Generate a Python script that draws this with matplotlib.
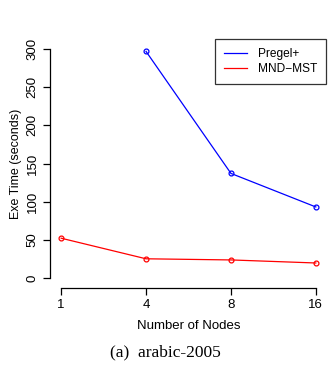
import matplotlib
matplotlib.use("Agg")
import matplotlib.pyplot as plt
from matplotlib.lines import Line2D

nodes = ["1", "4", "8", "16"]
pregel_x = [1, 2, 3]
pregel_vals = [297, 137, 93]
mnd_x = [0, 1, 2, 3]
mnd_vals = [52, 25, 23.5, 19.5]
yticks = [0, 50, 100, 150, 200, 250, 300]

plt.rcParams['font.family'] = ['Liberation Sans', 'DejaVu Sans']
fig = plt.figure(figsize=(3.28, 3.74), dpi=100)
W, H = 328, 374
left, right, top, bottom = 51, 326, 40, 287
ax = fig.add_axes([left / W, 1 - bottom / H, (right - left) / W, (bottom - top) / H])

ax.plot(pregel_x, pregel_vals, color='blue', lw=0.9, marker='o', ms=3.5,
        mfc='none', mec='blue', mew=0.9)
ax.plot(mnd_x, mnd_vals, color='red', lw=0.9, marker='o', ms=3.5,
        mfc='none', mec='red', mew=0.9)

ax.set_xlim(-0.12, 3.12)
ax.set_ylim(-12, 312)
ax.set_xticks(range(len(nodes)))
ax.set_xticklabels(nodes)
ax.set_yticks(yticks)
ax.set_yticklabels([str(v) for v in yticks])

for s in ['top', 'right']:
    ax.spines[s].set_visible(False)
ax.spines['left'].set_bounds(0, 300)
ax.spines['bottom'].set_bounds(0, 3)
ax.spines['left'].set_position(('outward', 1))
ax.spines['bottom'].set_position(('outward', 1))
for s in ['left', 'bottom']:
    ax.spines[s].set_linewidth(0.9)
ax.tick_params(direction='out', length=5, width=0.9, labelsize=9.5, pad=3)
ax.tick_params(axis='y', pad=3, labelrotation=90)
for lab in ax.get_yticklabels():
    lab.set_va('center')

ax.set_xlabel('Number of Nodes', fontsize=9.5, labelpad=6)
ax.set_ylabel('Exe Time (seconds)', fontsize=9, labelpad=3)

handles = [Line2D([], [], color='blue', lw=0.9), Line2D([], [], color='red', lw=0.9)]
leg = ax.legend(handles, ['Pregel+', 'MND\u2212MST'], loc='upper right',
                bbox_to_anchor=(1.0, 1.003), fontsize=8.6,
                frameon=True, fancybox=False, edgecolor='black', handlelength=1.9,
                borderpad=0.75, labelspacing=0.25, handletextpad=0.9, borderaxespad=0)
leg.get_frame().set_linewidth(0.9)

fig.text(165 / W, 1 - 352 / H, '(a)  arabic-2005', family=['Liberation Serif', 'DejaVu Serif'],
         fontsize=12.5, ha='center', va='center')

fig.savefig('out.png', dpi=100)
